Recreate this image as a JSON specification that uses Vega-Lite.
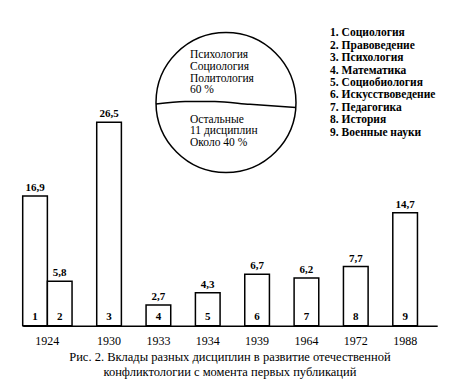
{
  "$schema": "https://vega.github.io/schema/vega-lite/v6.json",
  "autosize": "none",
  "width": 414.5,
  "height": 199.7,
  "padding": {"left": 22.7, "top": 126, "right": 31.8, "bottom": 58.3},
  "background": "white",
  "config": {
    "view": {"stroke": null},
    "font": "Liberation Serif",
    "locale": {"number": {"decimal": ",", "thousands": " ", "grouping": [3], "currency": ["", ""]}},
    "text": {"font": "Liberation Serif", "color": "black"}
  },
  "title": {
    "text": ["Рис. 2. Вклады разных дисциплин в развитие отечественной", "конфликтологии с момента первых публикаций"],
    "orient": "bottom",
    "anchor": "middle",
    "font": "Liberation Serif",
    "fontSize": 12.5,
    "fontWeight": "normal",
    "lineHeight": 15,
    "color": "black",
    "offset": 4
  },
  "datasets": {
    "bars": [
      {"n": "1", "year": "1924", "value": 16.9, "discipline": "Социология"},
      {"n": "2", "year": "1924", "value": 5.8, "discipline": "Правоведение"},
      {"n": "3", "year": "1930", "value": 26.5, "discipline": "Психология"},
      {"n": "4", "year": "1933", "value": 2.7, "discipline": "Математика"},
      {"n": "5", "year": "1934", "value": 4.3, "discipline": "Социобиология"},
      {"n": "6", "year": "1939", "value": 6.7, "discipline": "Искусствоведение"},
      {"n": "7", "year": "1964", "value": 6.2, "discipline": "Педагогика"},
      {"n": "8", "year": "1972", "value": 7.7, "discipline": "История"},
      {"n": "9", "year": "1988", "value": 14.7, "discipline": "Военные науки"}
    ],
    "circle": [{"x": 8.24, "y": 29.06}],
    "chord": [
      {"x": 5.4, "y": 28.86},
      {"x": 6.58, "y": 29.19},
      {"x": 7.79, "y": 29.19},
      {"x": 9.21, "y": 28.82},
      {"x": 11.07, "y": 28.41}
    ],
    "notes": [
      {"x": 6.78, "y": 35.2, "text": "Психология\nСоциология\nПолитология\n60 %", "kind": "pie"},
      {"x": 6.78, "y": 26.8, "text": "Остальные\n11 дисциплин\nОколо 40 %", "kind": "pie"},
      {"x": 12.46, "y": 38.05, "text": "1. Социология\n2. Правоведение\n3. Психология\n4. Математика\n5. Социобиология\n6. Искусствоведение\n7. Педагогика\n8. История\n9. Военные науки", "kind": "legend"}
    ]
  },
  "resolve": {"scale": {"x": "independent"}},
  "layer": [
    {
      "data": {"name": "bars"},
      "encoding": {
        "x": {
          "field": "n",
          "type": "nominal",
          "scale": {
            "domain": ["1", "2", "g1", "3", "g2", "4", "g3", "5", "g4", "6", "g5", "7", "g6", "8", "g7", "9"],
            "paddingInner": 0,
            "paddingOuter": 0.4,
            "align": 0
          },
          "axis": {"title": null, "labels": false, "ticks": false, "domainColor": "black", "domainWidth": 1.5}
        },
        "y": {
          "field": "value",
          "type": "quantitative",
          "scale": {"domain": [0, 26], "nice": false},
          "axis": {"title": null, "labels": false, "ticks": false, "grid": false, "domainColor": "black", "domainWidth": 1.5}
        }
      },
      "layer": [
        {"mark": {"type": "bar", "fill": "white", "stroke": "black", "strokeWidth": 1.5}},
        {
          "mark": {"type": "text", "baseline": "alphabetic", "dy": -5, "fontSize": 11, "fontWeight": "bold"},
          "encoding": {"text": {"field": "value", "type": "quantitative", "format": ".1f"}}
        },
        {
          "mark": {"type": "text", "baseline": "alphabetic", "dy": -6, "fontSize": 11, "fontWeight": "bold"},
          "encoding": {"y": {"datum": 0, "type": "quantitative"}, "text": {"field": "n"}}
        },
        {
          "transform": [{"filter": "datum.n == '2'"}],
          "mark": {"type": "text", "baseline": "middle", "dy": 15, "fontSize": 12},
          "encoding": {
            "x": {"field": "n", "type": "nominal", "bandPosition": 0},
            "y": {"datum": 0, "type": "quantitative"},
            "text": {"field": "year"}
          }
        },
        {
          "transform": [{"filter": "datum.n != '1' && datum.n != '2'"}],
          "mark": {"type": "text", "baseline": "middle", "dy": 15, "fontSize": 12},
          "encoding": {
            "y": {"datum": 0, "type": "quantitative"},
            "text": {"field": "year"}
          }
        }
      ]
    },
    {
      "encoding": {
        "x": {"field": "x", "type": "quantitative", "scale": {"domain": [0, 16.8], "nice": false, "zero": false}, "axis": null},
        "y": {"field": "y", "type": "quantitative", "scale": {"domain": [0, 26], "nice": false}, "axis": null}
      },
      "layer": [
        {
          "data": {"name": "circle"},
          "mark": {"type": "point", "shape": "circle", "size": 19600, "filled": false, "fill": "white", "fillOpacity": 1, "stroke": "black", "strokeWidth": 1.5, "opacity": 1}
        },
        {
          "data": {"name": "chord"},
          "mark": {"type": "line", "color": "black", "strokeWidth": 1.5, "interpolate": "monotone"}
        },
        {
          "data": {"name": "notes"},
          "transform": [{"filter": "datum.kind == 'pie'"}],
          "mark": {"type": "text", "align": "left", "baseline": "middle", "lineBreak": "\n", "lineHeight": 11.6, "fontSize": 11.5},
          "encoding": {"text": {"field": "text"}}
        },
        {
          "data": {"name": "notes"},
          "transform": [{"filter": "datum.kind == 'legend'"}],
          "mark": {"type": "text", "align": "left", "baseline": "middle", "lineBreak": "\n", "lineHeight": 12.4, "fontSize": 11.5, "fontWeight": "bold"},
          "encoding": {"text": {"field": "text"}}
        }
      ]
    }
  ]
}
